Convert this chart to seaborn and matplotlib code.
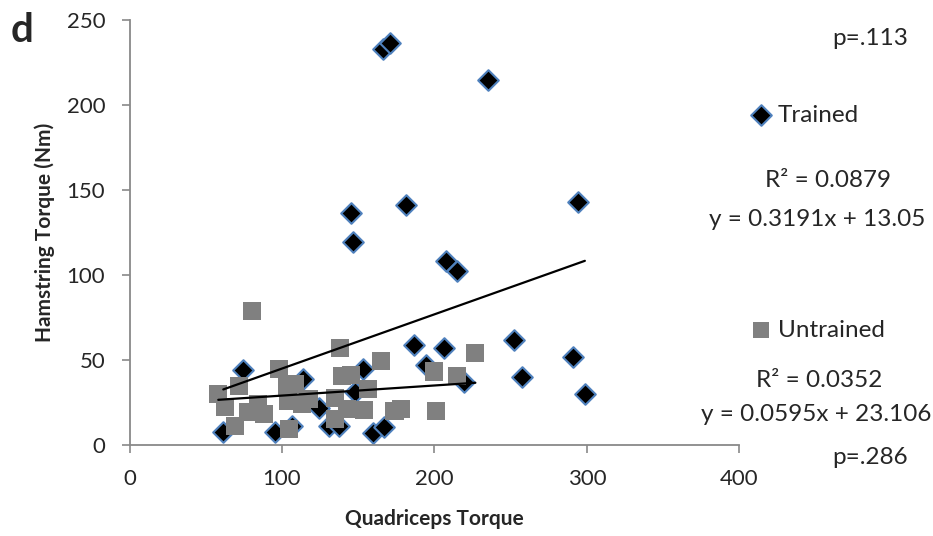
import numpy as np
import pandas as pd
import matplotlib
matplotlib.use("Agg")
import matplotlib.pyplot as plt
import seaborn as sns

# Trained group (diamonds)
trained_quad = [61.5, 74.7, 95.5, 106.4, 114, 124.4, 130.5, 137.5, 148, 153,
                159.6, 166.6, 186.8, 194.4, 206, 219.2, 166.2, 171, 235.1, 145.4,
                146.5, 181.5, 294.3, 207.8, 215, 252, 290.8, 257.5, 298.6]
trained_ham = [7.4, 44.2, 7.8, 11.0, 38.7, 21.5, 11.3, 11.0, 30.9, 44.6,
               7.0, 10.7, 58.7, 46.9, 57.1, 37.2, 232.8, 236.3, 214.8, 136.6,
               119.3, 141.4, 143.0, 108.2, 102.3, 61.6, 51.5, 40.1, 29.9]

# Untrained group (squares)
untrained_quad = [80.1, 58.2, 62.6, 69.2, 71.8, 78, 84.5, 88, 98, 103.1,
                  104.2, 104.6, 113, 117.4, 108.6, 138.1, 165, 226.8, 199.9, 214.8,
                  139.2, 145.3, 156.5, 134.8, 142.5, 153.5, 173.8, 178.2, 201.2, 134.8]
untrained_ham = [78.8, 29.9, 22.1, 11.3, 34.8, 19.2, 24.1, 18, 44.6, 33.9,
                 26, 9.4, 24.1, 27, 35.8, 57.3, 49.3, 54, 43.2, 40.7,
                 40.7, 41.1, 32.9, 27.5, 21, 20.5, 20.1, 21.1, 20.1, 15.3]

# Excel trendlines as printed on the chart
trained_fit = (0.3191, 13.05)
untrained_fit = (0.0595, 23.106)

trained_df = pd.DataFrame({"quad": trained_quad, "ham": trained_ham})
untrained_df = pd.DataFrame({"quad": untrained_quad, "ham": untrained_ham})

sns.set_style("white")
plt.rcParams["font.family"] = ["Lato", "DejaVu Sans"]

fig = plt.figure(figsize=(9.33, 5.36), dpi=100)
ax = fig.add_axes([0.1388, 0.1698, 0.6538, 0.7929])

sns.scatterplot(data=trained_df, x="quad", y="ham", marker="D", s=110,
                color="black", edgecolor="#4F81BD", linewidth=1.5,
                label="Trained", ax=ax, zorder=2)
sns.scatterplot(data=untrained_df, x="quad", y="ham", marker="s", s=170,
                color="#808080", edgecolor="none", linewidth=0,
                label="Untrained", ax=ax, zorder=3)

# trendlines over each group's x range
for df, (m, b) in [(trained_df, trained_fit), (untrained_df, untrained_fit)]:
    xs = np.array([df["quad"].min(), df["quad"].max()])
    sns.lineplot(x=xs, y=m * xs + b, color="black", linewidth=1.6, ax=ax,
                 zorder=4, legend=False)

ax.set_xlim(0, 400)
ax.set_ylim(0, 250)
ax.set_xticks(range(0, 401, 100))
ax.set_yticks(range(0, 251, 50))
ax.set_xlabel("Quadriceps Torque", fontsize=15, fontweight="bold", labelpad=14)
ax.set_ylabel("Hamstring Torque (Nm)", fontsize=15, fontweight="bold", labelpad=8)
ax.tick_params(axis="both", labelsize=16, length=5.5, width=1.2, color="#898989",
               direction="out", pad=12, left=True, bottom=True)
sns.despine(ax=ax)
for side in ["left", "bottom"]:
    ax.spines[side].set_color("#898989")
    ax.spines[side].set_linewidth(1.3)

handles, labels = ax.get_legend_handles_labels()
ax.get_legend().remove()
leg_kw = dict(loc="center left", frameon=False, fontsize=17.5, borderpad=0,
              borderaxespad=0, handlelength=0.8, handletextpad=0.3)
fig.legend([handles[0]], [labels[0]], bbox_to_anchor=(0.805, 0.785), **leg_kw)
fig.legend([handles[1]], [labels[1]], bbox_to_anchor=(0.805, 0.384),
           markerscale=0.9, **leg_kw)

txt_kw = dict(fontsize=17.5, ha="center", va="center")
fig.text(0.9325, 0.929, "p=.113", **txt_kw)
fig.text(0.8875, 0.664, "R² = 0.0879", **txt_kw)
fig.text(0.8757, 0.590, "y = 0.3191x + 13.05", **txt_kw)
fig.text(0.8778, 0.291, "R² = 0.0352", **txt_kw)
fig.text(0.8746, 0.226, "y = 0.0595x + 23.106", **txt_kw)
fig.text(0.9325, 0.147, "p=.286", **txt_kw)
fig.text(0.0236, 0.944, "d", fontsize=29, fontweight="bold", ha="center", va="center")

fig.savefig("out.png", dpi=100)
